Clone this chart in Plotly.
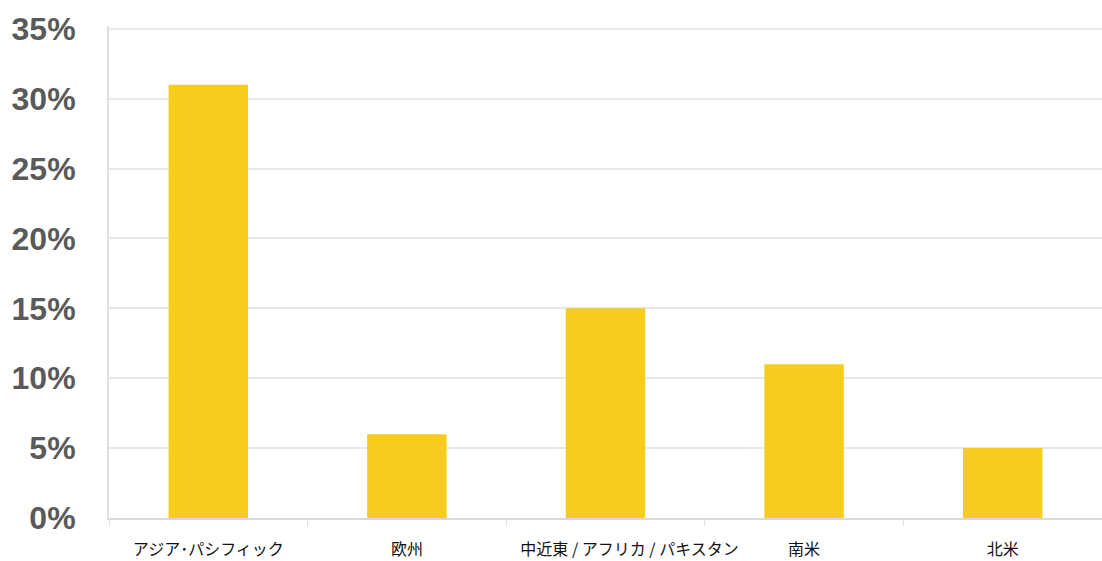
import plotly.graph_objects as go

categories = ["アジア･パシフィック", "欧州", "\u3000\u3000\u3000中近東 / アフリカ / パキスタン", "南米", "北米"]
values = [31, 6, 15, 11, 5]
y_ticks = [0, 5, 10, 15, 20, 25, 30, 35]
y_tick_labels = [f"{v}%" for v in y_ticks]

fig = go.Figure(go.Bar(
    x=categories, y=values,
    marker=dict(color="#F6CC1E", line=dict(width=0)),
    width=0.4,
))

fig.update_layout(
    width=1102, height=561,
    margin=dict(l=109, r=0, t=26, b=43),
    paper_bgcolor="white", plot_bgcolor="white",
    showlegend=False,
    font=dict(family="Noto Sans CJK JP", color="#000000"),
)
fig.update_xaxes(
    range=[-0.5, 4.5],
    automargin=False,
    tickangle=0,
    showline=True, linecolor="#d9d9d9", linewidth=2,
    ticks="outside", tickson="boundaries", ticklen=6, tickcolor="#e0e0e0", tickwidth=1,
    tickfont=dict(size=16, family="Noto Sans CJK JP", color="#111111"),
    ticklabelstandoff=16,
    showgrid=False,
)
fig.update_yaxes(
    range=[0, 35.2],
    automargin=False,
    tickvals=y_ticks, ticktext=y_tick_labels,
    showgrid=True, gridcolor="#e8e8e8", gridwidth=2,
    showline=True, linecolor="#e0e0e0", linewidth=2,
    zeroline=False,
    tickfont=dict(size=32, family="Liberation Sans", color="#5a5a5a", weight="bold"),
    ticklabelstandoff=25,
)

fig.write_html("out.html")
